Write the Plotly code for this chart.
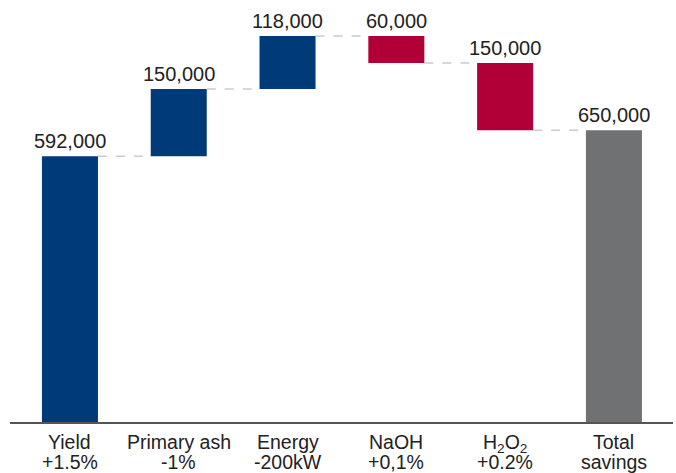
import plotly.graph_objects as go

cat_line1 = ["Yield", "Primary ash", "Energy", "NaOH", "H<sub>2</sub>O<sub>2</sub>", "Total"]
cat_line2 = ["+1.5%", "-1%", "-200kW", "+0,1%", "+0.2%", "savings"]
changes = [592000, 150000, 118000, -60000, -150000, None]
labels = ["592,000", "150,000", "118,000", "60,000", "150,000", "650,000"]

BLUE = "#003A78"
RED = "#B00037"
GRAY = "#707173"
TEXT = "#222222"

bases, heights, tops, colors, levels = [], [], [], [], []
cum = 0
for i, c in enumerate(changes):
    if c is None:
        bases.append(0); heights.append(cum); tops.append(cum); colors.append(GRAY)
    else:
        if c >= 0:
            bases.append(cum); heights.append(c); tops.append(cum + c); colors.append(BLUE)
        else:
            bases.append(cum + c); heights.append(-c); tops.append(cum); colors.append(RED)
        cum += c
    levels.append(cum)

x = list(range(len(cat_line1)))
bw = 0.515

fig = go.Figure(go.Bar(x=x, y=heights, base=bases, marker_color=colors, width=bw,
                       marker_line_width=0, hoverinfo="skip"))

shapes = []
for i in range(len(x) - 1):
    shapes.append(dict(type="line", xref="x", yref="y", x0=i + bw / 2, x1=i + 1 - bw / 2,
                       y0=levels[i], y1=levels[i], line=dict(color="#CCCCCC", width=1.5, dash="dash")))

annotations = []
for i in x:
    annotations.append(dict(x=i, y=tops[i], text=labels[i], showarrow=False, xref="x", yref="y",
                            yanchor="bottom", yshift=2, font=dict(size=20, color=TEXT)))
    annotations.append(dict(x=i, y=0, text=cat_line1[i], showarrow=False, xref="x", yref="y",
                            yanchor="top", yshift=-7, font=dict(size=19.5, color=TEXT)))
    annotations.append(dict(x=i, y=0, text=cat_line2[i], showarrow=False, xref="x", yref="y",
                            yanchor="top", yshift=-27, font=dict(size=19.5, color=TEXT)))

fig.update_layout(
    width=676, height=473,
    margin=dict(l=10, r=3, t=10, b=50.5),
    paper_bgcolor="white", plot_bgcolor="white",
    showlegend=False,
    shapes=shapes, annotations=annotations,
    font=dict(family="Liberation Sans, Arial, sans-serif", color=TEXT),
    xaxis=dict(range=[-0.551, 5.543], showticklabels=False,
               showline=True, linecolor="#555555", linewidth=1.5, showgrid=False, zeroline=False,
               ticks=""),
    yaxis=dict(range=[0, 917900], visible=False, showgrid=False, zeroline=False),
)

fig.write_html("out.html", config={"displayModeBar": False},
               post_script="document.body.style.margin='0px';")
